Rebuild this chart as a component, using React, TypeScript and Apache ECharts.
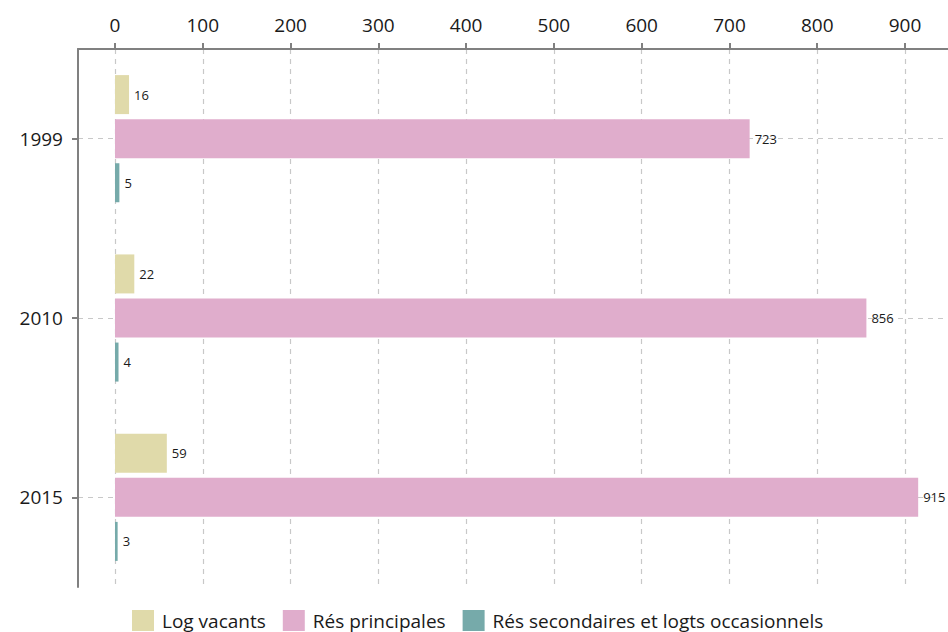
import React, { useEffect, useRef } from "react";
import * as echarts from "echarts";

const years = ["1999", "2010", "2015"];
const logVacants = [16, 22, 59];
const resPrincipales = [723, 856, 915];
const resSecondaires = [5, 4, 3];
const seriesNames = ["Log vacants", "Rés principales", "Rés secondaires et logts occasionnels"];
const colors = ["#e0daaa", "#e0adcc", "#76aaaa"];

const FONT = "Open Sans";
const TEXT = "#1a1a1a";
const AXIS = "#808080";
const GRID = "#c8c8c8";

export default function App() {
  const ref = useRef<HTMLDivElement>(null);
  useEffect(() => {
    if (!ref.current) return;
    const chart = echarts.init(ref.current, undefined, { renderer: "svg" });
    const label = {
      show: true,
      position: "right",
      distance: 5,
      fontSize: 13,
      fontFamily: FONT,
      color: TEXT,
    };
    const datasets = [logVacants, resPrincipales, resSecondaires];
    chart.setOption({
      animation: false,
      textStyle: { fontFamily: FONT },
      grid: [
        { left: 78, top: 49, width: 922, height: 538, containLabel: false },
        { left: 115, top: 49, width: 877.8, height: 538, containLabel: false },
      ],
      legend: {
        data: seriesNames,
        left: 132,
        top: 610,
        padding: 0,
        itemWidth: 22,
        itemHeight: 21,
        itemGap: 17,
        icon: "rect",
        textStyle: { fontSize: 19, fontFamily: FONT, color: TEXT, padding: [0, 0, 0, 3] },
      },
      xAxis: [
        {
          gridIndex: 0,
          type: "value",
          position: "top",
          min: 0,
          max: 1,
          axisLine: { show: true, onZero: false, lineStyle: { color: AXIS, width: 2 } },
          axisTick: { show: false },
          axisLabel: { show: false },
          splitLine: { show: false },
        },
        {
          gridIndex: 1,
          type: "value",
          position: "top",
          min: 0,
          max: 1000,
          interval: 100,
          axisLine: { show: false },
          axisTick: { show: true, length: 6, lineStyle: { color: AXIS, width: 2 } },
          axisLabel: {
            fontSize: 19,
            fontFamily: FONT,
            color: TEXT,
            margin: 15,
            showMaxLabel: false,
            formatter: (v: number) => (v <= 900 ? String(v) : ""),
          },
          splitLine: { show: true, lineStyle: { color: GRID, width: 1.2, type: [5, 5] } },
        },
      ],
      yAxis: [
        {
          gridIndex: 0,
          type: "category",
          data: years,
          inverse: true,
          axisLine: { show: true, onZero: false, lineStyle: { color: AXIS, width: 2 } },
          axisTick: { show: true, alignWithLabel: true, length: 6, lineStyle: { color: AXIS, width: 2 } },
          axisLabel: { fontSize: 19, fontFamily: FONT, color: TEXT, margin: 15 },
          splitLine: { show: true, alignWithLabel: true, lineStyle: { color: GRID, width: 1.2, type: [5, 5] } },
        },
        {
          gridIndex: 1,
          type: "category",
          data: years,
          inverse: true,
          axisLine: { show: false },
          axisTick: { show: false },
          axisLabel: { show: false },
          splitLine: { show: false },
        },
      ],
      series: seriesNames.map((name, i) => ({
        name,
        type: "bar",
        xAxisIndex: 1,
        yAxisIndex: 1,
        data: datasets[i],
        barWidth: 39,
        barGap: "13%",
        itemStyle: { color: colors[i] },
        label,
      })),
    });
    return () => chart.dispose();
  }, []);
  return (
    <div style={{ position: "absolute", left: 0, top: 0, width: 948, height: 632, overflow: "hidden" }}>
      <div ref={ref} style={{ width: 1000, height: 632 }} />
    </div>
  );
}
